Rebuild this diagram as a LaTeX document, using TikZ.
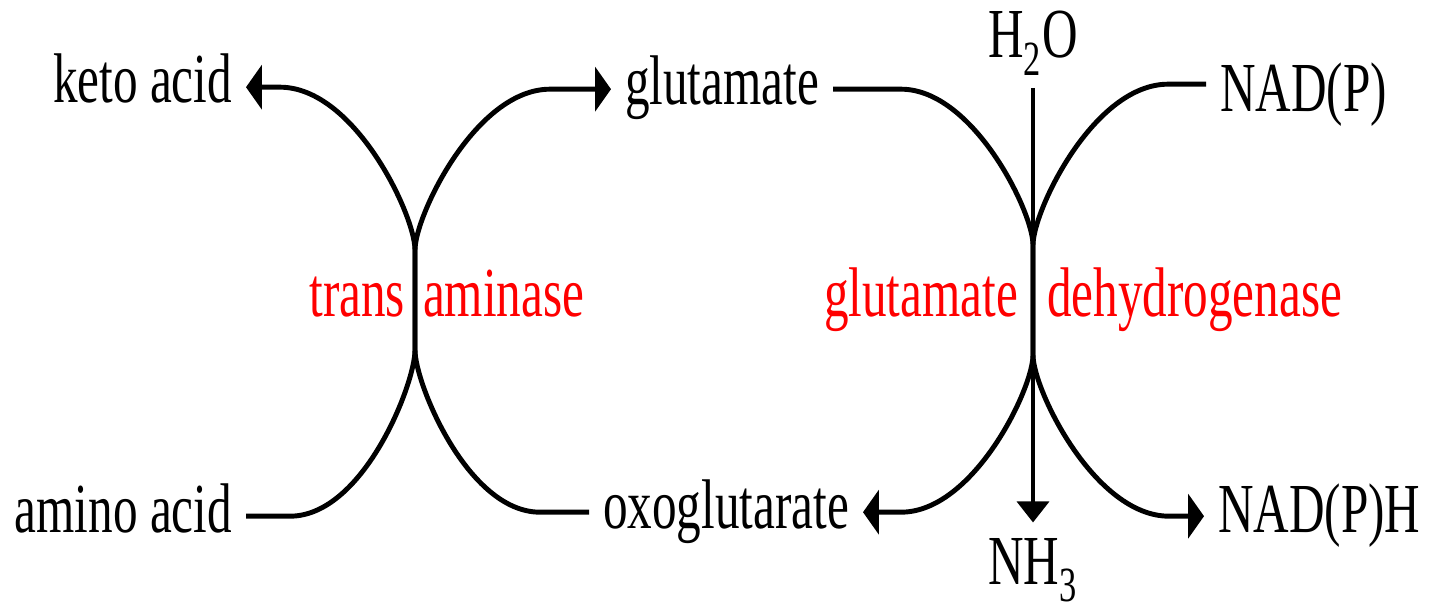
\documentclass[tikz,border=0pt]{standalone}
\usepackage{fontspec}
\setmainfont{Liberation Serif}[FakeStretch=0.7]
\usepackage{tikz}
\usetikzlibrary{arrows.meta, positioning, calc}

\begin{document}
\begin{tikzpicture}[
    x=0.02cm, y=0.02cm,
    lbl/.style={font=\fontsize{40}{44}\selectfont, inner sep=0pt, outer sep=8pt, text height=27pt, text depth=9pt},
    enz/.style={lbl, text=red, outer sep=0pt},
    flow/.style={line width=2.8pt},
    arr/.style={flow, -{Triangle[length=9pt, width=25pt]}},
    down/.style={flow, -{Triangle[length=12pt, width=18pt]}},
    tojunc/.style={out looseness=0.9, in looseness=0.42},
    fromjunc/.style={out looseness=0.42, in looseness=0.9}
  ]
  \useasboundingbox (0,0) rectangle (1429,612);

  % Compounds
  \node[lbl, anchor=base east] (keto) at (246,509) {keto acid};
  \node[lbl, anchor=base east] (amino) at (246,80) {amino acid};
  \node[lbl, anchor=base west] (glu) at (611,507) {glutamate};
  \node[lbl, anchor=base west] (oxo) at (589,84) {oxoglutarate};
  \node[lbl, anchor=base west] (nad) at (1206,500) {NAD(P)};
  \node[lbl, anchor=base west] (nadh) at (1204,80) {NAD(P)H};
  \node[lbl, anchor=base] (h2o) at (1033,554) {H\textsubscript{2}O};
  \node[lbl, anchor=base] (nh3) at (1033,28) {NH\textsubscript{3}};

  % Enzymes
  \node[enz, anchor=base east] (trans) at (405,295) {trans};
  \node[enz, anchor=base west] (aminase) at (423,295) {aminase};
  \node[enz, anchor=base east] (gdh1) at (1018,295) {glutamate};
  \node[enz, anchor=base west] (gdh2) at (1047,295) {dehydrogenase};

  % Junctions
  \coordinate (ta-top) at (415,362);
  \coordinate (ta-bot) at (415,262);
  \coordinate (gd-top) at (1033,367);
  \coordinate (gd-bot) at (1033,257);

  % Transaminase
  \draw[arr] (amino.east) -- ++(44,0) to[out=0,in=-90,tojunc] (ta-bot) -- (ta-top)
    to[out=90,in=0,fromjunc] ($(keto.east)+(34,0)$) -- (keto);
  \draw[arr] (oxo.west) -- ++(-49,0) to[out=180,in=-90,tojunc] (ta-bot) -- (ta-top)
    to[out=90,in=180,fromjunc] ($(glu.west)-(61,0)$) -- (glu);

  % Glutamate dehydrogenase
  \draw[arr] (glu.east) -- ++(68,0) to[out=0,in=90,tojunc] (gd-top) -- (gd-bot)
    to[out=-90,in=0,fromjunc] ($(oxo.east)+(38,0)$) -- (oxo);
  \draw[arr] ($(nad.west)+(0,12)$) -- ++(-38,0) to[out=180,in=90,tojunc] (gd-top) -- (gd-bot)
    to[out=-90,in=180,fromjunc] ($(nadh.west)-(35,0)$) -- (nadh);
  \draw[down] (h2o) -- (nh3);
\end{tikzpicture}
\end{document}
